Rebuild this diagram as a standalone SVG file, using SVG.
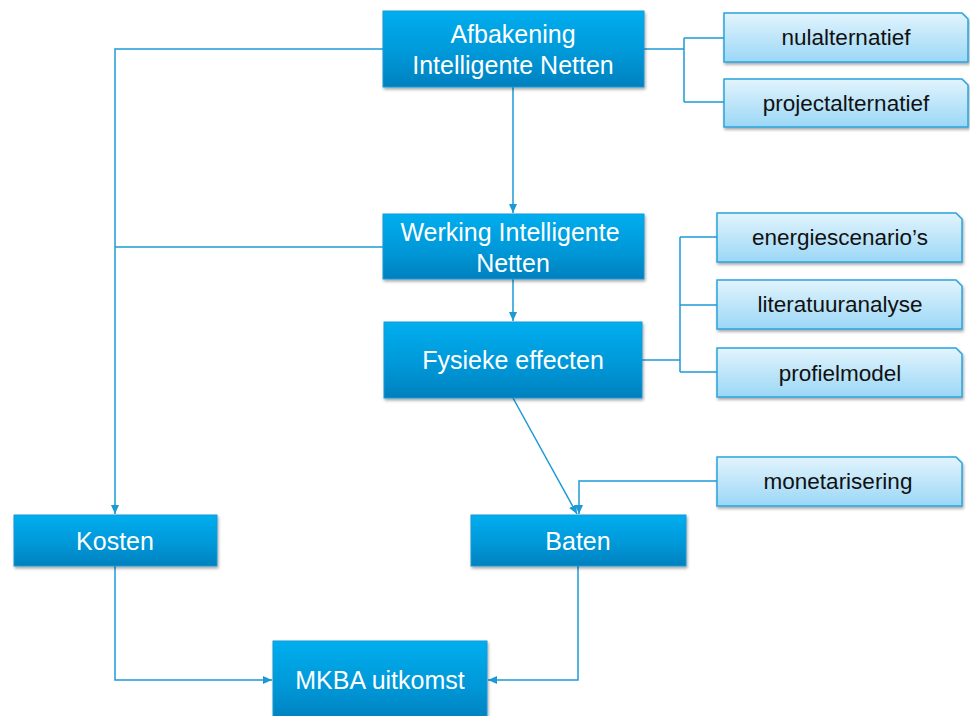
<svg xmlns="http://www.w3.org/2000/svg" width="970" height="716" viewBox="0 0 970 716">
<defs>
<linearGradient id="gMain" x1="0" y1="0" x2="0" y2="1">
<stop offset="0" stop-color="#00aeef"/>
<stop offset="0.6" stop-color="#0396d6"/>
<stop offset="1" stop-color="#0280be"/>
</linearGradient>
<linearGradient id="gSide" x1="0" y1="0" x2="0" y2="1">
<stop offset="0" stop-color="#e2f4fd"/>
<stop offset="1" stop-color="#9bd7f6"/>
</linearGradient>
<filter id="sh" x="-10%" y="-10%" width="125%" height="140%">
<feDropShadow dx="1" dy="2" stdDeviation="1.5" flood-color="#000" flood-opacity="0.35"/>
</filter>
<marker id="arr" markerWidth="10" markerHeight="10" refX="9" refY="5" orient="auto" markerUnits="userSpaceOnUse">
<path d="M0,1 L9,5 L0,9 Z" fill="#1c9ad6"/>
</marker>
</defs>
<style>
.main{fill:url(#gMain);stroke:#1b98d4;stroke-width:1;filter:url(#sh)}
.side{fill:url(#gSide);stroke:#2aa4dc;stroke-width:1.5;filter:url(#sh)}
.mt{font-family:"Liberation Sans",Arial,sans-serif;font-size:25px;fill:#ffffff;text-anchor:middle}
.st{font-family:"Liberation Sans",Arial,sans-serif;font-size:22.5px;fill:#111111;text-anchor:middle}
.c{fill:none;stroke:#1c9ad6;stroke-width:1.5}
</style>
<g id="connectors">
<path class="c" d="M383,49 H115 V514" marker-end="url(#arr)"/>
<path class="c" d="M383,247 H115"/>
<path class="c" d="M513,87 V213" marker-end="url(#arr)"/>
<path class="c" d="M513,279 V321" marker-end="url(#arr)"/>
<path class="c" d="M513,398 L577,514" marker-end="url(#arr)"/>
<path class="c" d="M717,481 H579 V514" marker-end="url(#arr)"/>
<path class="c" d="M644,49 H684 M684,38 V102 M684,38 H724 M684,102 H724"/>
<path class="c" d="M642,360 H680 M680,237 V372 M680,237 H717 M680,305 H717 M680,372 H717"/>
<path class="c" d="M115,566 V680 H272" marker-end="url(#arr)"/>
<path class="c" d="M578,566 V680 H488" marker-end="url(#arr)"/>
</g>
<g id="afbakening">
<rect class="main" x="383" y="11" width="261" height="76"/>
<text class="mt" x="513" y="43">Afbakening</text>
<text class="mt" x="513" y="74">Intelligente Netten</text>
</g>
<g id="nulalternatief">
<path class="side" d="M724,13 H962 L968,19 V62 H724 Z"/>
<text class="st" x="846" y="45">nulalternatief</text>
</g>
<g id="projectalternatief">
<path class="side" d="M724,79 H962 L968,85 V127 H724 Z"/>
<text class="st" x="846" y="111">projectalternatief</text>
</g>
<g id="werking">
<rect class="main" x="383" y="214" width="261" height="65"/>
<text class="mt" x="510" y="241">Werking Intelligente</text>
<text class="mt" x="513" y="272">Netten</text>
</g>
<g id="fysieke">
<rect class="main" x="384" y="322" width="258" height="76"/>
<text class="mt" x="513" y="369">Fysieke effecten</text>
</g>
<g id="energiescenarios">
<path class="side" d="M717,213 H956 L962,219 V262 H717 Z"/>
<text class="st" x="840" y="245">energiescenario’s</text>
</g>
<g id="literatuuranalyse">
<path class="side" d="M717,280 H956 L962,286 V329 H717 Z"/>
<text class="st" x="840" y="312">literatuuranalyse</text>
</g>
<g id="profielmodel">
<path class="side" d="M717,348 H956 L962,354 V397 H717 Z"/>
<text class="st" x="840" y="381">profielmodel</text>
</g>
<g id="monetarisering">
<path class="side" d="M717,457 H956 L962,463 V506 H717 Z"/>
<text class="st" x="838" y="489">monetarisering</text>
</g>
<g id="kosten">
<rect class="main" x="14" y="515" width="203" height="51"/>
<text class="mt" x="115" y="550">Kosten</text>
</g>
<g id="baten">
<rect class="main" x="471" y="515" width="215" height="51"/>
<text class="mt" x="578" y="550">Baten</text>
</g>
<g id="mkba">
<rect class="main" x="273" y="641" width="214" height="80"/>
<text class="mt" x="380" y="689">MKBA uitkomst</text>
</g>
</svg>
